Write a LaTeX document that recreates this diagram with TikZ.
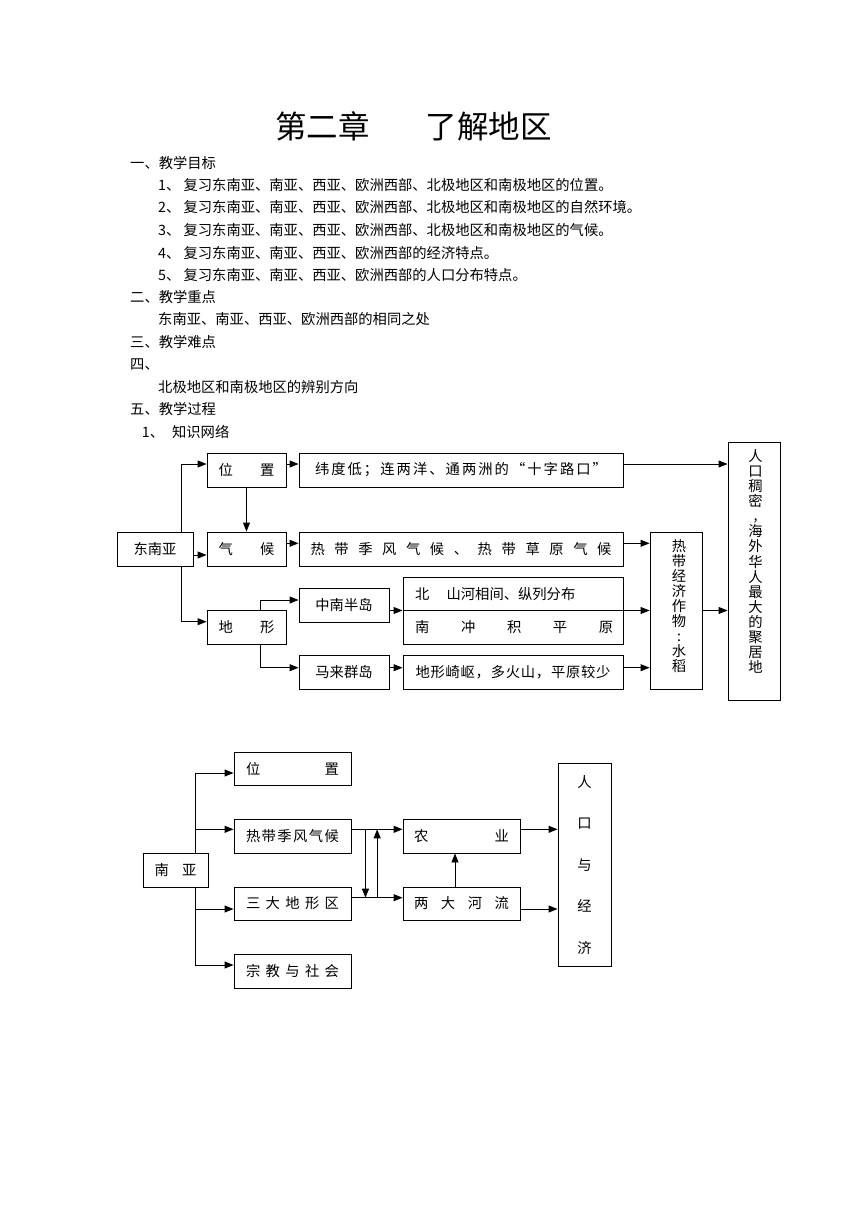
\documentclass[tikz,border=0pt]{standalone}
\usepackage{fontspec}
\setmainfont{Noto Sans CJK SC}
\usetikzlibrary{arrows.meta,calc}
\def\mySpreadAux#1#2{#1\ifx#2\relax\else\hfill\expandafter\mySpreadAux\expandafter#2\fi}
\newcommand\spreadtxt[2]{\makebox[#1][s]{\mySpreadAux#2\relax}}
\begin{document}
\begin{tikzpicture}[x=1pt,y=-1pt,
  font=\fontsize{14.3}{17}\selectfont,
  box/.style={draw=black,line width=0.9pt,inner sep=0pt,align=center},
  txt/.style={anchor=west,inner sep=0pt},
  arr/.style={line width=0.9pt,-{Triangle[length=9pt,width=7pt]}},
  vtext/.style={inner sep=0pt,align=center}]
\fill[white] (0,0) rectangle (860,1216);
\useasboundingbox (0,0) rectangle (860,1216);

% ---- heading and text ----
\node[inner sep=0pt,font=\fontsize{31.5}{36}\selectfont] (title) at (413.5,126.7) {第二章\hspace{56pt}了解地区};
\node[txt] (l1) at (130,162.7) {一、教学目标};
\node[txt] (l2) at (158,185) {1、\ 复习东南亚、南亚、西亚、欧洲西部、北极地区和南极地区的位置。};
\node[txt] (l3) at (158,207.3) {2、\ 复习东南亚、南亚、西亚、欧洲西部、北极地区和南极地区的自然环境。};
\node[txt] (l4) at (158,230) {3、\ 复习东南亚、南亚、西亚、欧洲西部、北极地区和南极地区的气候。};
\node[txt] (l5) at (158,252.7) {4、\ 复习东南亚、南亚、西亚、欧洲西部的经济特点。};
\node[txt] (l6) at (158,275) {5、\ 复习东南亚、南亚、西亚、欧洲西部的人口分布特点。};
\node[txt] (l7) at (130,297.3) {二、教学重点};
\node[txt] (l8) at (158,319.3) {东南亚、南亚、西亚、欧洲西部的相同之处};
\node[txt] (l9) at (130,342.3) {三、教学难点};
\node[txt] (l10) at (130,365) {四、};
\node[txt] (l11) at (158,386.7) {北极地区和南极地区的辨别方向};
\node[txt] (l12) at (130,409.3) {五、教学过程};
\node[txt] (l13) at (141.7,432.3) {1、\hspace{8pt}知识网络};

% ---- diagram 1 ----
\node[box,minimum width=76,minimum height=34] (dny) at (155,549) {东南亚};
\node[box,minimum width=79,minimum height=34] (wz) at (246.5,470) {\spreadtxt{56pt}{位置}};
\node[box,minimum width=79,minimum height=34] (qh) at (246.5,549) {\spreadtxt{56pt}{气候}};
\node[box,minimum width=79,minimum height=34] (dx) at (246.5,627) {\spreadtxt{56pt}{地形}};
\node[box,minimum width=324,minimum height=34] (wd) at (461,470) {\spreadtxt{292pt}{纬度低；连两洋、通两洲的“十字路口”}};
\node[box,minimum width=324,minimum height=34] (rd) at (461,549) {\spreadtxt{301pt}{热带季风气候、热带草原气候}};
\node[box,minimum width=90,minimum height=34] (zn) at (344,605) {中南半岛};
\node[box,minimum width=90,minimum height=34] (ml) at (344,672) {马来群岛};
\node[box,minimum width=220,minimum height=67] (bn) at (513,610.5) {};
\node[txt] (bt) at (415,594) {北\hspace{1.2em}山河相间、纵列分布};
\node[txt] (nt) at (415,627.5) {\spreadtxt{198pt}{南冲积平原}};
\node[box,minimum width=220,minimum height=34] (dq) at (513,672) {\spreadtxt{195pt}{地形崎岖，多火山，平原较少}};
\node[box,minimum width=52,minimum height=157] (jj) at (676,610.5) {};
\node[vtext,font=\fontsize{14.3}{14.9}\selectfont] (jjt) at (679,606) {热\\带\\经\\济\\作\\物\\:\\水\\稻};
\node[box,minimum width=52,minimum height=258] (rk) at (754,571) {};
\node[vtext,font=\fontsize{14.3}{15.1}\selectfont] (rkt) at (755.5,561.5) {人\\口\\稠\\密\\\raisebox{1pt}{,}\\海\\外\\华\\人\\最\\大\\的\\聚\\居\\地};

\draw[arr] ([xshift=26.7pt]dny.north) |- ([yshift=6pt]wz.west);
\draw[arr] ([yshift=6pt]wz.east) -- ([yshift=6pt]wz.east -| wd.west);
\draw[arr] ([yshift=6pt]wd.east) -- ([yshift=6pt]wd.east -| rk.west);
\draw[arr] (wz.south) -- (qh.north);
\draw[arr] ([yshift=-6pt]dny.east) -- ([yshift=-6pt]dny.east -| qh.west);
\draw[arr] ([yshift=5.7pt]qh.east) -- ([yshift=5.7pt]qh.east -| rd.west);
\draw[arr] ([yshift=5.7pt]rd.east) -- ([yshift=5.7pt]rd.east -| jj.west);
\draw[arr] ([xshift=26.7pt]dny.south) |- ([yshift=5.3pt]dx.west);
\draw[arr] ([xshift=13.5pt]dx.north) |- ([yshift=5pt]zn.west);
\draw[arr] ([xshift=13.5pt]dx.south) |- ([yshift=4.3pt]ml.west);
\draw[arr] (zn.east |- bn.west) -- (bn.west);
\draw[arr] (bn.west) -- (bn.west -| jj.west);
\draw[arr] ([yshift=4.3pt]ml.east) -- ([yshift=4.3pt]ml.east -| dq.west);
\draw[arr] ([yshift=4.3pt]dq.east) -- ([yshift=4.3pt]dq.east -| jj.west);
\draw[arr] (jj.east) -- (jj.east -| rk.west);

% ---- diagram 2 ----
\node[box,minimum width=65,minimum height=34] (na) at (175.5,870) {\spreadtxt{42pt}{南亚}};
\node[box,minimum width=117,minimum height=33] (wz2) at (292.5,768.5) {\spreadtxt{93pt}{位置}};
\node[box,minimum width=117,minimum height=34] (rd2) at (292.5,836) {\spreadtxt{93pt}{热带季风气候}};
\node[box,minimum width=117,minimum height=33] (sd) at (292.5,903.5) {\spreadtxt{93pt}{三大地形区}};
\node[box,minimum width=117,minimum height=34] (zj) at (292.5,971) {\spreadtxt{93pt}{宗教与社会}};
\node[box,minimum width=117,minimum height=34] (ny) at (461.5,836) {\spreadtxt{95pt}{农业}};
\node[box,minimum width=117,minimum height=33] (lh) at (461.5,903.5) {\spreadtxt{95pt}{两大河流}};
\node[box,minimum width=53,minimum height=203,font=\fontsize{14.3}{41.5}\selectfont] (rj) at (584.5,864.5) {人\\口\\与\\经\\济};

\draw[arr] ([xshift=19.5pt]na.north) |- ([yshift=-4.5pt]wz2.west);
\draw[arr] ([xshift=19.5pt]na.north) |- ([yshift=6.7pt]rd2.west);
\draw[arr] ([xshift=19.5pt]na.south) |- ([yshift=-5.5pt]sd.west);
\draw[arr] ([xshift=19.5pt]na.south) |- ([yshift=6pt]zj.west);
\draw[arr] ([yshift=6.7pt]rd2.east) -- ([yshift=6.7pt]rd2.east -| ny.west);
\draw[arr] ([yshift=5.8pt]sd.east) -- ([yshift=5.8pt]sd.east -| lh.west);
\draw[arr] ([xshift=14pt,yshift=6.7pt]rd2.east) -- ([xshift=14pt,yshift=5.8pt]sd.east);
\draw[arr] ([xshift=25.7pt,yshift=5.8pt]sd.east) -- ([xshift=25.7pt,yshift=6.7pt]rd2.east);
\draw[arr] ([xshift=-6.5pt]lh.north) -- ([xshift=-6.5pt]ny.south);
\draw[arr] ([yshift=6.7pt]ny.east) -- ([yshift=6.7pt]ny.east -| rj.west);
\draw[arr] ([yshift=-5.5pt]lh.east) -- ([yshift=-5.5pt]lh.east -| rj.west);
\end{tikzpicture}
\end{document}
